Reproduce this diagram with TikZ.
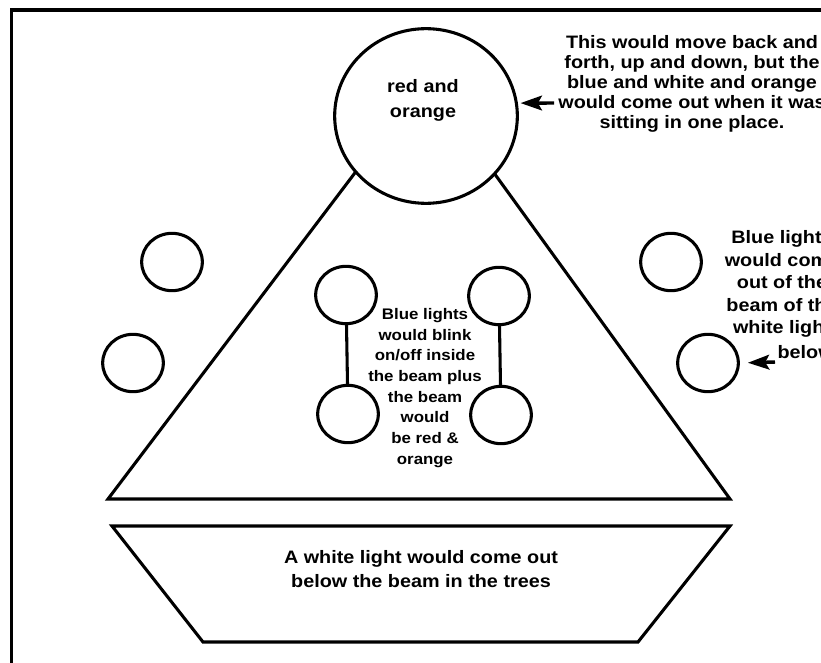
\documentclass[tikz,border=0pt]{standalone}
\usepackage{fontspec}
\newfontfamily\diafont[FakeStretch=1.1]{Liberation Sans}
\usetikzlibrary{shapes.geometric,arrows.meta}
\begin{document}
\begin{tikzpicture}[x=0.75pt,y=-0.75pt,line width=2.3pt,
  lamp/.style={draw,ellipse,inner sep=0pt,minimum width=45.5pt,minimum height=43pt},
  txt/.style={inner sep=0pt,align=center,font=\diafont\bfseries\fontsize{13.5}{15}\selectfont},
  smalltxt/.style={inner sep=0pt,align=center,font=\diafont\bfseries\fontsize{11.5}{15.5}\selectfont},
  pointer/.style={line width=2.6pt,-{Stealth[length=16pt,width=11pt,inset=3pt]}}]
\useasboundingbox (0,0) rectangle (821,663);
\clip (0,0) rectangle (821,663);
% frame
\draw[line width=2.3pt] (11.5,10) rectangle (850,700);
% beam (triangle)
\draw[line join=miter] (426,79) -- (730,499) -- (108,499) -- cycle;
% top light
\node[draw,ellipse,fill=white,inner sep=0pt,minimum width=137pt,minimum height=131pt] (ctop) at (426,116) {};
\node[txt,font=\diafont\bfseries\fontsize{13.5}{18.75}\selectfont] (ctext) at (423,100) {red and\\orange};
% top note
\node[txt] (topnote) at (692,84) {This would move back and\\forth, up and down, but the\\blue and white and orange\\would come out when it was\\sitting in one place.};
\coordinate (atail) at (554,103);
\draw[pointer,shorten >=2pt] (atail) -- (ctop.8);
% outer lamps
\node[lamp] (l1) at (172,262) {};
\node[lamp] (l2) at (133,363) {};
\node[lamp] (r1) at (671,262) {};
\node[lamp] (r2) at (708,363) {};
% inner lamps
\node[lamp] (ia) at (346,295) {};
\node[lamp] (ib) at (348,414) {};
\node[lamp] (ic) at (499,296) {};
\node[lamp] (id) at (501,415) {};
\draw (ia) -- (ib);
\draw (ic) -- (id);
\node[smalltxt] (inner) at (425,388) {Blue lights\\would blink\\on/off inside\\the beam plus\\the beam\\would\\be red \&\\orange};
% right note
\node[txt,font=\diafont\bfseries\fontsize{13.5}{16.8}\selectfont] (rightnote) at (782,284) {Blue lights\\would come\\out of the\\beam of the\\white light};
\node[txt,anchor=west] (below) at (776,352) {below};
\coordinate (btail) at (775,362);
\draw[pointer,shorten >=6pt] (btail) -- (r2.east);
% lower part (trapezoid)
\draw[line join=miter] (112,526) -- (730,526) -- (638,642) -- (203,642) -- cycle;
\node[txt,font=\diafont\bfseries\fontsize{13.5}{17.5}\selectfont] (white) at (421,569) {A white light would come out\\below the beam in the trees};
\end{tikzpicture}
\end{document}
